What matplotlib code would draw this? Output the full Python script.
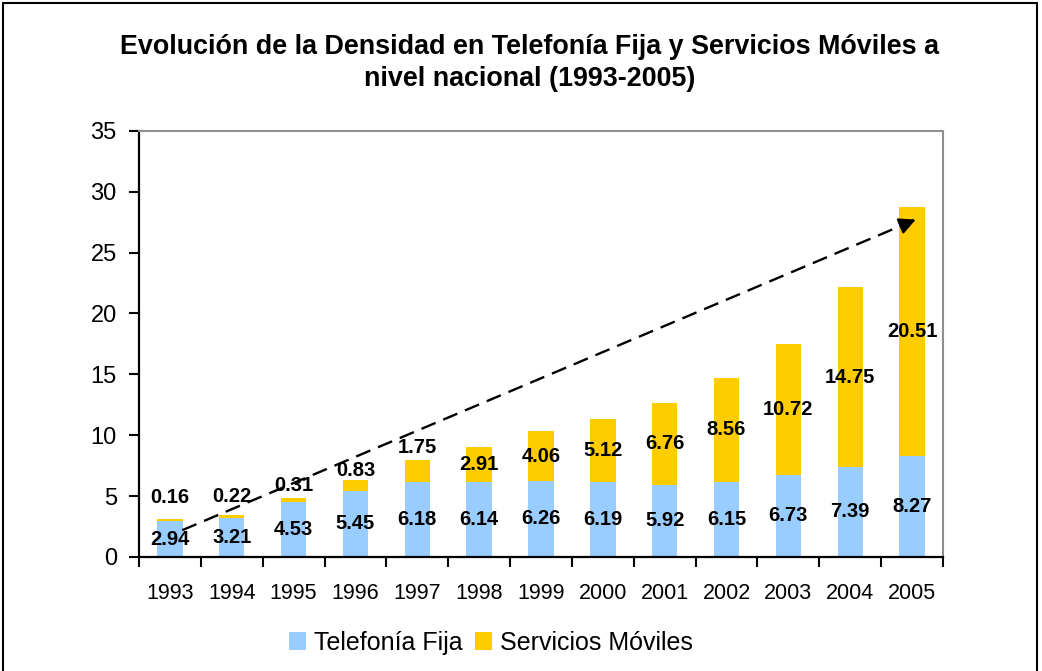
import numpy as np
import matplotlib.pyplot as plt
from matplotlib.patches import Rectangle

plt.rcParams['font.family'] = ['Liberation Sans', 'DejaVu Sans']

# Data
years = ["1993", "1994", "1995", "1996", "1997", "1998", "1999",
         "2000", "2001", "2002", "2003", "2004", "2005"]
fija = [2.94, 3.21, 4.53, 5.45, 6.18, 6.14, 6.26, 6.19, 5.92, 6.15, 6.73, 7.39, 8.27]
moviles = [0.16, 0.22, 0.31, 0.83, 1.75, 2.91, 4.06, 5.12, 6.76, 8.56, 10.72, 14.75, 20.51]

# labels of the thin segments sit above the bar (lift over the top)
label_lift = [1.8, 1.5, 1.0, 0.8, 1.1]

# dashed trend arrow (start and end, in data units)
trend_start = (0.2, 2.2)
trend_end = (12.1, 27.8)

blue = "#99CCFF"
gold = "#FFCC00"

fig = plt.figure(figsize=(10.42, 6.71), dpi=100)
ax = fig.add_axes([0.1334, 0.170, 0.7716, 0.635])

x = np.arange(len(years))
w = 0.41
ax.bar(x, fija, w, color=blue, label="Telefonía Fija", zorder=2)
ax.bar(x, moviles, w, bottom=fija, color=gold, label="Servicios Móviles", zorder=2)

# data labels
for i in range(len(years)):
    ax.text(x[i], fija[i] / 2, f"{fija[i]:.2f}", ha="center", va="center",
            fontsize=14.5, fontweight="bold", zorder=4)
    if i < len(label_lift):
        ym = fija[i] + moviles[i] + label_lift[i]
    else:
        ym = fija[i] + moviles[i] / 2
    ax.text(x[i], ym, f"{moviles[i]:.2f}", ha="center", va="center",
            fontsize=14.5, fontweight="bold", zorder=4)

# trend arrow
ax.plot([trend_start[0], trend_end[0]], [trend_start[1], trend_end[1]],
        color="black", lw=1.7, dashes=(6.5, 3.5), zorder=3)
ax.annotate("", xy=trend_end, xytext=(trend_end[0] - 0.3, trend_end[1] - 0.64),
            arrowprops=dict(arrowstyle="-|>", color="black", lw=1.6,
                            mutation_scale=25), zorder=3)

ax.set_xlim(-0.5, len(years) - 0.5)
ax.set_ylim(0, 35)
ax.set_yticks(np.arange(0, 36, 5))
ax.set_xticks(x)
ax.set_xticklabels(years)
ax.set_xticks(np.arange(-0.5, len(years), 1), minor=True)
ax.tick_params(axis="x", which="major", length=0, pad=19, labelsize=15.5)
ax.tick_params(axis="x", which="minor", length=7, width=1.5, direction="out")
ax.tick_params(axis="y", length=7, width=1.5, direction="out", pad=9, labelsize=17)

for s in ["left", "bottom"]:
    ax.spines[s].set_linewidth(1.6)
    ax.spines[s].set_color("black")
for s in ["top", "right"]:
    ax.spines[s].set_linewidth(1.5)
    ax.spines[s].set_color("#909090")

fig.text(0.5086, 0.930, "Evolución de la Densidad en Telefonía Fija y Servicios Móviles a",
         ha="center", va="center", fontsize=19.4, fontweight="bold")
fig.text(0.5086, 0.882, "nivel nacional (1993-2005)",
         ha="center", va="center", fontsize=19.4, fontweight="bold")

fig.legend(loc="center", bbox_to_anchor=(0.471, 0.042), ncol=2, frameon=False,
           fontsize=18, handlelength=0.7, handleheight=0.7, handletextpad=0.3,
           columnspacing=0.5)

# outer frame
fig.patches.append(Rectangle((0.003, -0.02), 0.992, 1.015, transform=fig.transFigure,
                             fill=False, edgecolor="black", lw=1.5))

fig.savefig("out.png", dpi=100)
